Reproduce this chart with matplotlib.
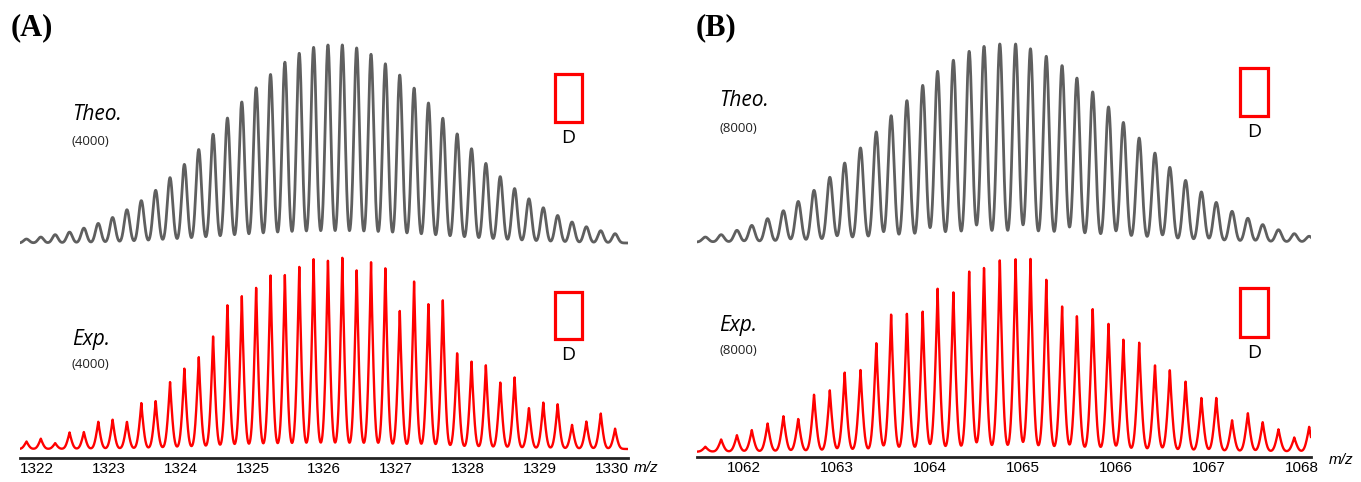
import numpy as np
import matplotlib
matplotlib.use('Agg')
import matplotlib.pyplot as plt
from matplotlib.patches import Rectangle

W, H = 1361, 482

# ---- panel A peaks (z=5, spacing 0.2)
mz_a = [1321.85, 1322.05, 1322.25, 1322.45, 1322.65, 1322.85, 1323.05, 1323.25, 1323.45, 1323.65,
        1323.85, 1324.05, 1324.25, 1324.45, 1324.65, 1324.85, 1325.05, 1325.25, 1325.45, 1325.65,
        1325.85, 1326.05, 1326.25, 1326.45, 1326.65, 1326.85, 1327.05, 1327.25, 1327.45, 1327.65,
        1327.85, 1328.05, 1328.25, 1328.45, 1328.65, 1328.85, 1329.05, 1329.25, 1329.45, 1329.65,
        1329.85, 1330.05]
theo_a = [2.0, 3.0, 4.2, 5.5, 7.5, 9.9, 12.9, 16.8, 21.4, 26.6, 33.0, 39.7, 47.2, 54.9, 63.1, 71.2,
          78.4, 85.1, 91.3, 95.8, 98.8, 100, 100, 98.5, 95.3, 90.5, 84.8, 78.2, 70.7, 63.0, 55.1,
          47.6, 40.2, 33.5, 27.5, 22.3, 17.8, 13.9, 10.6, 8.2, 6.2, 4.7]
exp_a = [4.0, 5.4, 3.1, 8.7, 8.9, 14.4, 15.3, 14.4, 24.0, 25.3, 35.2, 42.2, 48.6, 58.7, 76.4, 79.9,
         85.1, 91.3, 91.3, 96.4, 99.0, 100, 100, 94.3, 98.3, 94.8, 73.1, 87.3, 76.9, 77.8, 50.5,
         46.0, 43.9, 35.2, 37.3, 21.7, 24.3, 23.6, 12.7, 14.4, 18.8, 10.6]
ticks_a = [1322, 1323, 1324, 1325, 1326, 1327, 1328, 1329, 1330]

# ---- panel B peaks (z=6, spacing 1/6)
mz_b = [1061.58, 1061.75, 1061.92, 1062.08, 1062.25, 1062.42, 1062.58, 1062.75, 1062.92, 1063.08,
        1063.25, 1063.42, 1063.58, 1063.75, 1063.92, 1064.08, 1064.25, 1064.42, 1064.58, 1064.75,
        1064.92, 1065.08, 1065.25, 1065.42, 1065.58, 1065.75, 1065.92, 1066.08, 1066.25, 1066.42,
        1066.58, 1066.75, 1066.92, 1067.08, 1067.25, 1067.42, 1067.58, 1067.75, 1067.92, 1068.08]
theo_b = [2.5, 3.7, 5.9, 8.4, 11.8, 15.8, 20.5, 26.1, 32.7, 39.9, 47.5, 55.6, 63.8, 71.4, 79.1,
          86.2, 91.8, 96.3, 98.8, 100, 100, 97.6, 93.8, 89.1, 82.8, 75.8, 68.2, 60.4, 52.5, 44.9,
          37.7, 31.1, 25.3, 20.0, 15.5, 12.0, 8.8, 6.2, 4.2, 2.9]
exp_b = [2.6, 6.4, 8.6, 11.2, 14.7, 18.6, 17.2, 29.8, 31.9, 41.0, 42.6, 56.9, 72.1, 72.1, 72.8,
         84.5, 83.1, 94.5, 96.6, 100, 100, 100, 89.7, 76.2, 71.2, 74.5, 66.4, 58.1, 56.9, 45.3,
         42.8, 36.6, 27.9, 27.9, 16.4, 20.2, 15.5, 11.7, 7.4, 12.9]
ticks_b = [1062, 1063, 1064, 1065, 1066, 1067, 1068]


def profile(x, centers, heights, sigma, spike=0.0):
    # gaussian peaks; "spike" mixes in a cusp shape for the measured traces
    y = np.zeros_like(x)
    for c, h in zip(centers, heights):
        d = x - c
        g = np.exp(-d ** 2 / (2 * sigma ** 2))
        k = np.exp(-np.abs(d) / (0.7 * sigma))
        y += h * ((1 - spike) * g + spike * k)
    return y


def px_axes(left, top, right, bottom):
    return fig.add_axes([left / W, 1 - bottom / H, (right - left) / W, (bottom - top) / H])


def ftext(x, y, s, **kw):
    fig.text(x / W, 1 - y / H, s, **kw)


def box(x0, y0, x1, y1):
    fig.add_artist(Rectangle((x0 / W, 1 - y1 / H), (x1 - x0) / W, (y1 - y0) / H,
                             transform=fig.transFigure, fill=False, ec='#ff0000', lw=2.3))


def bottom_axis(ax, ticks):
    for s in ['top', 'left', 'right']:
        ax.spines[s].set_visible(False)
    ax.spines['bottom'].set_linewidth(2)
    ax.spines['bottom'].set_color('#222222')
    ax.set_yticks([])
    ax.set_xticks(ticks)
    ax.tick_params(axis='x', length=0, pad=3, labelsize=11)
    for lab in ax.get_xticklabels():
        lab.set_family('Liberation Sans')


fig = plt.figure(figsize=(W / 100, H / 100), dpi=100)
gray = '#5f5f5f'
red = '#ff0000'

# ================= panel A
xlim_a = (1321.76, 1330.23)
xa = np.linspace(xlim_a[0], xlim_a[1], 4000)

ax = px_axes(20, 40, 628, 246)
ax.plot(xa, profile(xa, mz_a, theo_a, 0.038), color=gray, lw=2)
ax.set_xlim(xlim_a)
ax.set_ylim(-1.52, 102.5)
ax.axis('off')

ax = px_axes(20, 252, 628, 458)
ax.plot(xa, profile(xa, mz_a, exp_a, 0.035, spike=0.5), color=red, lw=1.7)
ax.set_xlim(xlim_a)
ax.set_ylim(-4.69, 102.6)
bottom_axis(ax, ticks_a)

# ================= panel B
xlim_b = (1061.49, 1068.10)
xb = np.linspace(xlim_b[0], xlim_b[1], 4000)

ax = px_axes(697, 40, 1311, 246)
ax.plot(xb, profile(xb, mz_b, theo_b, 0.032), color=gray, lw=2)
ax.set_xlim(xlim_b)
ax.set_ylim(-2.02, 102.02)
ax.axis('off')

ax = px_axes(697, 252, 1311, 457)
ax.plot(xb, profile(xb, mz_b, exp_b, 0.03, spike=0.5), color=red, lw=1.7)
ax.set_xlim(xlim_b)
ax.set_ylim(-2.74, 103.3)
bottom_axis(ax, ticks_b)

# ================= labels
ftext(11, 28, '(A)', family='Liberation Serif', weight='bold', size=22, va='center')
ftext(696, 28, '(B)', family='Liberation Serif', weight='bold', size=22, va='center')

lab_font = dict(family='Open Sans', style='italic', size=15, va='center')
sub_font = dict(family='Open Sans', size=9.5, va='center', color='#222222')
ftext(72, 115, 'Theo.', **lab_font)
ftext(72, 141, '(4000)', **sub_font)
ftext(72, 340, 'Exp.', **lab_font)
ftext(72, 365, '(4000)', **sub_font)
ftext(719, 101, 'Theo.', **lab_font)
ftext(719, 128, '(8000)', **sub_font)
ftext(719, 326, 'Exp.', **lab_font)
ftext(719, 351, '(8000)', **sub_font)

box(555, 74, 582, 122)
box(555, 292, 582, 339)
box(1240, 68, 1268, 116)
box(1240, 288, 1268, 337)
d_font = dict(family='Open Sans', size=14, ha='center', va='center')
ftext(568.5, 138, 'D', **d_font)
ftext(568.5, 355, 'D', **d_font)
ftext(1254, 132, 'D', **d_font)
ftext(1254, 353, 'D', **d_font)

mz_font = dict(family='Liberation Sans', style='italic', size=11, va='center')
ftext(634, 468, 'm/z', **mz_font)
ftext(1329, 460, 'm/z', **mz_font)

plt.savefig('out.png', dpi=100)
